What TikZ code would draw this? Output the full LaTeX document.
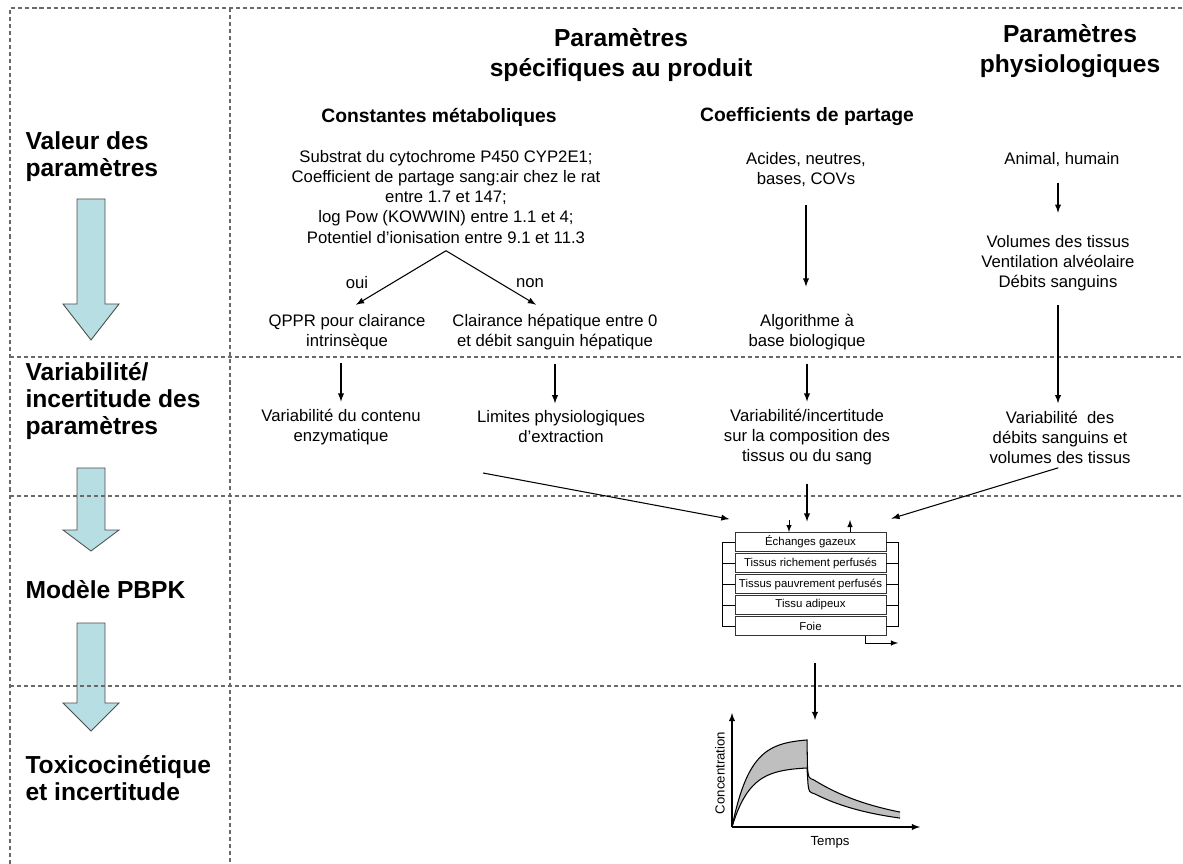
\documentclass[tikz,border=0pt]{standalone}
\usepackage{fontspec}
\setmainfont{Liberation Sans}
\definecolor{flowblue}{RGB}{183,222,226}
\definecolor{gridgray}{RGB}{105,105,105}
\tikzset{
  txt/.style={align=center, inner sep=2pt, font=\fontsize{9.5}{11.4}\selectfont},
  head/.style={align=center, inner sep=0pt, font=\fontsize{14}{17}\selectfont\bfseries},
  sub/.style={inner sep=0pt, font=\fontsize{11}{13}\selectfont\bfseries},
  side/.style={anchor=west, align=left, inner sep=0pt, font=\fontsize{14}{15.5}\selectfont\bfseries},
  divider/.style={gridgray, line width=0.6pt, dash pattern=on 2.3pt off 1.7pt},
  row/.style={draw=black!80, line width=0.5pt, minimum width=3.02cm, minimum height=0.38cm, inner sep=0pt, font=\fontsize{6.5}{7.5}\selectfont},
  bigarrow/.style={draw=black!70, fill=flowblue, line width=0.5pt},
  vconn/.style={->, shorten <=5.5pt, shorten >=2pt},
  small/.style={font=\fontsize{7.5}{9}\selectfont, inner sep=0pt}
}
\begin{document}
\begin{tikzpicture}[>=latex, x=0.02cm, y=-0.02cm, line width=0.6pt,
  declare function={uprise(\t)=827-87*(1-exp(-(\t-732)/18))/(1-exp(-75/18));
                    lorise(\t)=827-59*(1-exp(-(\t-732)/18))/(1-exp(-75/18));
                    updecay(\t)=827-47*exp(-(\t-814)/75);
                    lodecay(\t)=827-33*exp(-(\t-815)/65);}]
\useasboundingbox (0,0) rectangle (1183,864);

% left column arrows
\foreach \top/\base/\tip in {199/304/340, 468/530/551, 623/703/731}
  \draw[bigarrow] (77,\top) -- (105,\top) -- (105,\base) -- (119,\base) -- (91,\tip) -- (63,\base) -- (77,\base) -- cycle;

% grid
\draw[divider] (10,864) -- (10,8) -- (1183,8);
\draw[divider] (230,8) -- (230,864);
\foreach \y in {357,496,686}
  \draw[divider] (10,\y) -- (1183,\y);

\node[side] (valeur) at (25,157) {Valeur des\\paramètres};
\node[side] (variab) at (25,401) {Variabilité/\\incertitude des\\paramètres};
\node[side] (modele) at (25,590) {Modèle PBPK};
\node[side] (toxico) at (25,778) {Toxicocinétique\\et incertitude};

\node[head] (produit) at (621,55) {Paramètres\\spécifiques au produit};
\node[head] (physio) at (1070,51) {Paramètres\\physiologiques};
\node[sub] (metabtitle) at (439,117) {Constantes métaboliques};
\node[sub] (coeftitle) at (807,117) {Coefficients de partage};

\node[txt] (metab) at (446,197) {Substrat du cytochrome P450 CYP2E1;\\Coefficient de partage sang:air chez le rat\\entre 1.7 et 147;\\log Pow (KOWWIN) entre 1.1 et 4;\\Potentiel d’ionisation entre 9.1 et 11.3};
\node[txt] (oui) at (357,283) {oui};
\node[txt] (non) at (530,283) {non};
\node[txt] (qppr) at (347,332) {QPPR pour clairance\\intrinsèque};
\node[txt] (clair) at (555,332) {Clairance hépatique entre 0\\et débit sanguin hépatique};
\node[txt] (varenz) at (341,427) {Variabilité du contenu\\enzymatique};
\node[txt] (limites) at (561,427) {Limites physiologiques\\d’extraction};

\node[txt] (acides) at (806,170) {Acides, neutres,\\bases, COVs};
\node[txt] (algo) at (807,332) {Algorithme à\\base biologique};
\node[txt] (varcomp) at (807,437) {Variabilité/incertitude\\sur la composition des\\tissus ou du sang};

\node[txt] (animal) at (1062,160) {Animal, humain};
\node[txt] (volumes) at (1058,263) {Volumes des tissus\\Ventilation alvéolaire\\Débits sanguins};
\node[txt] (varphys) at (1060,437) {Variabilité\ \ des\\débits sanguins et\\volumes des tissus};

% PBPK model
\foreach \n/\t [count=\i] in {gaz/Échanges gazeux, riche/Tissus richement perfusés, pauvre/Tissus pauvrement perfusés, adipeux/Tissu adipeux, foie/Foie}
  \node[row] (\n) at (810.5,521+21*\i) {\t};
\draw[line width=0.5pt] (gaz.west) -- ++(-12,0) |- (foie.west);
\draw[line width=0.5pt] (gaz.east) -- ++(12,0) |- (foie.east);
\foreach \n in {riche,pauvre,adipeux}
  \draw[line width=0.5pt] (\n.west) -- ++(-12,0) (\n.east) -- ++(12,0);

% connectors
\coordinate (fork) at ([yshift=-2pt]metab.south);
\draw[->, shorten >=6pt] (fork) -- (qppr.north);
\draw[->, shorten >=6pt] (fork) -- ([xshift=-0.2cm]clair.north);
\draw[vconn] (varenz.north |- qppr.south) -- (varenz.north);
\draw[vconn] (clair.south) -- (clair.south |- limites.north);
\draw[->, shorten <=7.7pt, shorten >=13.4pt] (acides.south) -- (acides.south |- algo.north);
\draw[vconn] (algo.south) -- (algo.south |- varcomp.north);
\draw[->, shorten <=8.3pt, shorten >=6pt] (varcomp.south) -- (varcomp.south |- gaz.north);
\draw[->, shorten <=6.6pt, shorten >=10.5pt] (volumes.north |- animal.south) -- (volumes.north);
\draw[->, shorten <=6pt, shorten >=2pt] (volumes.south) -- (volumes.south |- varphys.north);

\coordinate (enz) at (483,473);
\draw[->, shorten >=3pt] (enz) -- ([yshift=0.24cm]gaz.north west);
\draw[->, shorten <=1pt, shorten >=3pt] (varphys.south) -- ([yshift=0.24cm]gaz.north east);

\coordinate (inlet) at (789,520);
\coordinate (outlet) at (850,520);
\coordinate (exhaust) at (898,643);
\draw[->, line width=0.4pt] (inlet) -- (inlet |- gaz.north);
\draw[<-, line width=0.4pt] (outlet) -- (outlet |- gaz.north);
\draw[->, line width=0.4pt] ([xshift=1.1cm]foie.south) |- (exhaust);

% concentration curve
\coordinate (plottop) at (815,720);
\coordinate (origin) at (732,827);
\coordinate (ytop) at (732,713);
\coordinate (xend) at (920,827);
\draw[->, shorten <=15.4pt] (foie.south -| plottop) -- (plottop);

\fill[black!25] plot[domain=732:807, samples=40] (\x,{uprise(\x)}) -- (807.5,768) .. controls (808.5,778) .. (814,780)
  -- plot[domain=814:900, samples=30] (\x,{updecay(\x)})
  -- plot[domain=900:815, samples=30] (\x,{lodecay(\x)}) .. controls (809,792) .. (808,784) -- (807,{lorise(807)})
  -- plot[domain=807:732, samples=40] (\x,{lorise(\x)}) -- cycle;
\draw plot[domain=732:807, samples=40] (\x,{uprise(\x)}) -- (807.5,768) .. controls (808.5,778) .. (814,780)
  -- plot[domain=814:900, samples=30] (\x,{updecay(\x)});
\draw plot[domain=732:807, samples=40] (\x,{lorise(\x)}) -- (808,784) .. controls (809,792) .. (815,794)
  -- plot[domain=815:900, samples=30] (\x,{lodecay(\x)});
\draw[->] (origin) -- (ytop);
\draw[->] (origin) -- (xend);
\node[small, rotate=90] (conc) at (720,773) {Concentration};
\node[small] (temps) at (830,842) {Temps};

\end{tikzpicture}
\end{document}
